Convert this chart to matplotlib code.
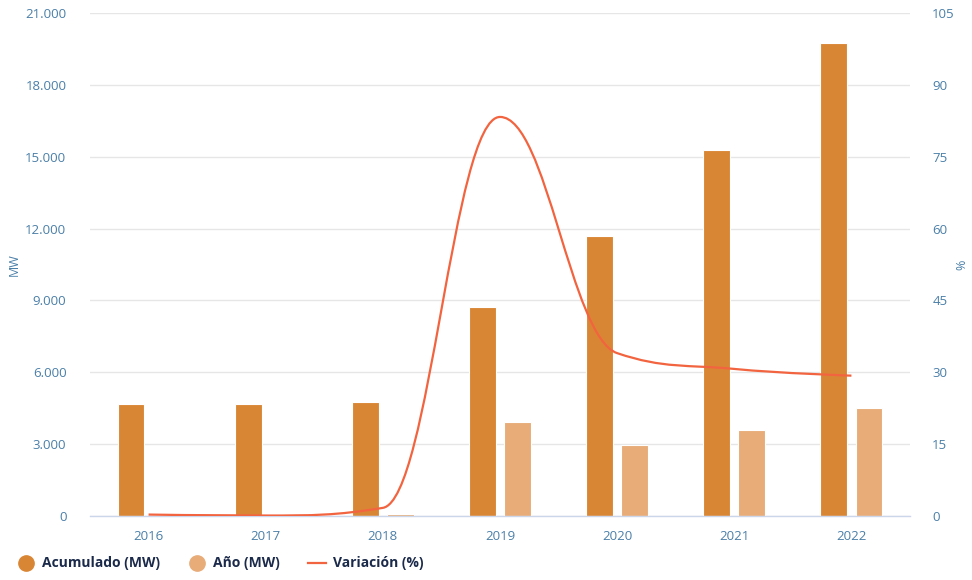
import matplotlib
matplotlib.use("Agg")
import matplotlib.pyplot as plt
import numpy as np
from matplotlib.path import Path
from matplotlib.patches import PathPatch
from matplotlib.ticker import FuncFormatter, FixedLocator
from matplotlib.lines import Line2D

years = ["2016", "2017", "2018", "2019", "2020", "2021", "2022"]
acumulado = [4676, 4680, 4760, 8725, 11690, 15280, 19750]
anio = [0, 0, 80, 3924, 2964, 3590, 4510]
variacion = [0.3, 0.1, 1.7, 83.3, 34.0, 30.7, 29.3]

C_ACU = "#D98634"
C_ANIO = "#E8AC78"
C_LINE = "#F2643F"
C_TICK = "#4A7FA8"
C_LEG = "#1B2A4A"

plt.rcParams['font.family'] = ['Open Sans', 'DejaVu Sans']

fig = plt.figure(figsize=(9.72, 5.8), dpi=100)
ax = fig.add_axes([90/972, 64/580, 820/972, 503/580])
ax2 = ax.twinx()

x = np.arange(len(years))
w = 0.23
off = 0.15
ax.bar(x - off, acumulado, width=w, color=C_ACU, edgecolor="white", linewidth=0.8, zorder=2)
ax.bar(x + off, anio, width=w, color=C_ANIO, edgecolor="white", linewidth=0.8, zorder=2)

ax.set_xlim(-0.5, len(years) - 0.5)
ax.set_ylim(0, 21000)
ax.yaxis.set_major_locator(FixedLocator(np.arange(0, 21001, 3000)))
ax.yaxis.set_major_formatter(FuncFormatter(lambda v, p: f"{int(v):,}".replace(",", ".")))
ax.grid(axis="y", color="#e6e6e6", linewidth=1, zorder=0)
ax.set_axisbelow(True)
ax2.set_ylim(0, 105)
ax2.yaxis.set_major_locator(FixedLocator(np.arange(0, 106, 15)))

for a in (ax, ax2):
    for s in a.spines.values():
        s.set_visible(False)
ax.spines["bottom"].set_visible(True)
ax.spines["bottom"].set_color("#ccd6eb")
ax.spines["bottom"].set_linewidth(1)

ax.set_xticks(x)
ax.set_xticklabels(years)
ax.tick_params(axis="x", length=0, pad=10, labelsize=9.5, labelcolor=C_TICK)
ax.tick_params(axis="y", length=0, pad=17, labelsize=9.5, labelcolor=C_TICK)
ax2.tick_params(axis="y", length=0, pad=16, labelsize=9.5, labelcolor=C_TICK)
ax.set_ylabel("MW", color=C_TICK, fontsize=9)
ax2.set_ylabel("%", color=C_TICK, fontsize=9)
ax.yaxis.set_label_coords(-0.085, 0.5)
ax2.yaxis.set_label_coords(1.055, 0.5)

# Highcharts-style spline
xs = list(map(float, x))
ys = list(map(float, variacion))
n = len(xs)
sm = 1.5
den = sm + 1
lc = [None] * n
rc = [None] * n
for i in range(n):
    if 0 < i < n - 1:
        px, py = xs[i], ys[i]
        lx, ly = xs[i - 1], ys[i - 1]
        nx, ny = xs[i + 1], ys[i + 1]
        lcx = (sm * px + lx) / den
        lcy = (sm * py + ly) / den
        rcx = (sm * px + nx) / den
        rcy = (sm * py + ny) / den
        corr = ((rcy - lcy) * (rcx - px)) / (rcx - lcx) + py - rcy
        lcy += corr
        rcy += corr
        if lcy > ly and lcy > py:
            lcy = max(ly, py); rcy = 2 * py - lcy
        elif lcy < ly and lcy < py:
            lcy = min(ly, py); rcy = 2 * py - lcy
        if rcy > ny and rcy > py:
            rcy = max(ny, py); lcy = 2 * py - rcy
        elif rcy < ny and rcy < py:
            rcy = min(ny, py); lcy = 2 * py - rcy
        lc[i] = (lcx, lcy)
        rc[i] = (rcx, rcy)
    else:
        lc[i] = (xs[i], ys[i])
        rc[i] = (xs[i], ys[i])
verts = [(xs[0], ys[0])]
codes = [Path.MOVETO]
for i in range(1, n):
    verts += [rc[i - 1], lc[i], (xs[i], ys[i])]
    codes += [Path.CURVE4] * 3
ax2.add_patch(PathPatch(Path(verts, codes), facecolor="none", edgecolor=C_LINE, linewidth=1.6, zorder=3))

handles = [
    Line2D([], [], marker="o", linestyle="none", markersize=11, markerfacecolor=C_ACU, markeredgecolor=C_ACU),
    Line2D([], [], marker="o", linestyle="none", markersize=11, markerfacecolor=C_ANIO, markeredgecolor=C_ANIO),
    Line2D([], [], color=C_LINE, linewidth=1.6),
]
leg = fig.legend(handles, ["Acumulado (MW)", "Año (MW)", "Variación (%)"], loc="lower left",
                 bbox_to_anchor=(0.005, -0.005), ncol=3, frameon=False, handlelength=1.3,
                 handletextpad=0.5, columnspacing=2.0, prop={"weight": "bold", "size": 10})
for t in leg.get_texts():
    t.set_color(C_LEG)

fig.savefig("out.png", dpi=100)
